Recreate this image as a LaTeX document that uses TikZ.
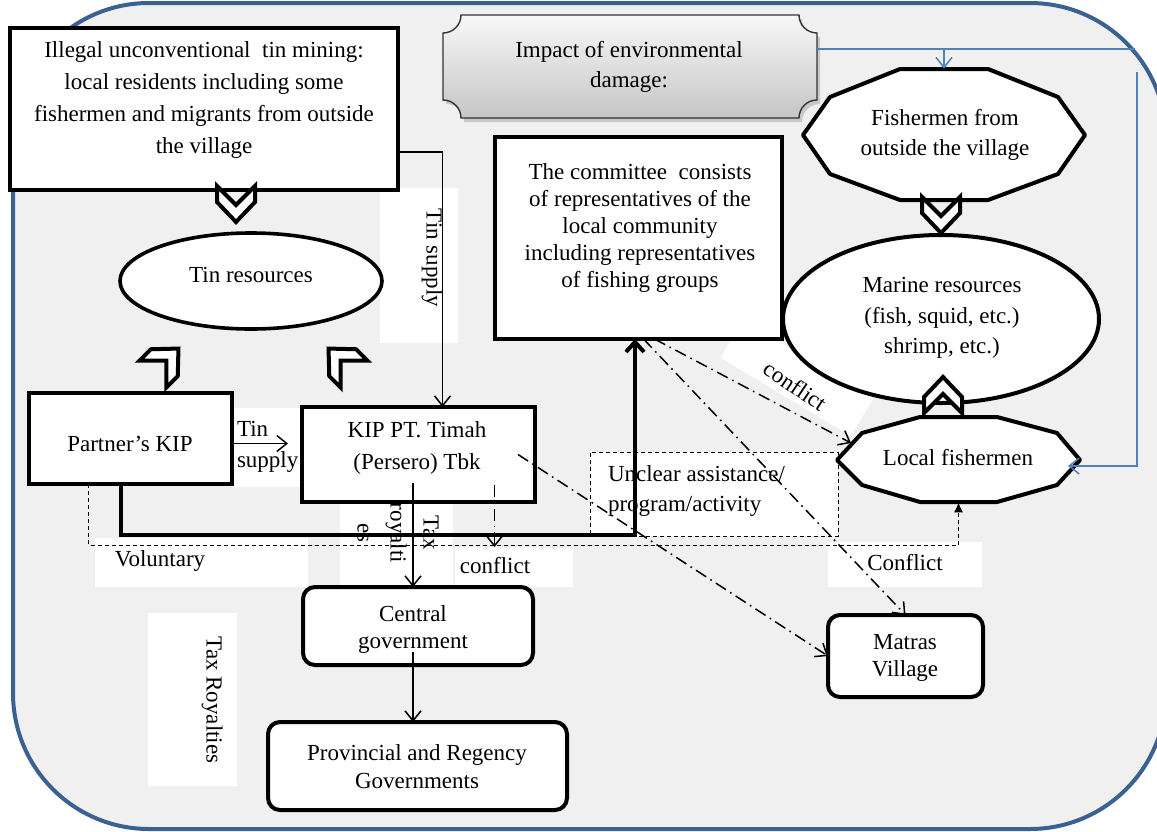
\documentclass[tikz,border=0pt]{standalone}
\usepackage{fontspec}
\setmainfont{Liberation Serif}
\usetikzlibrary{arrows.meta,fit,shapes.geometric,shadows}

\begin{document}
\begin{tikzpicture}[x=0.5pt,y=-0.5pt,
  txt/.style={text=black,inner sep=0pt,outer sep=0pt,align=center,font=\fontsize{11.5}{15.5}\selectfont},
  txtskip/.style={font=\fontsize{11.5}{#1}\selectfont},
  patch/.style={fill=white},
  boxframe/.style={draw=black,line width=2pt,fill=white,inner sep=0pt,outer sep=0pt},
  roundframe/.style={boxframe,rounded corners=6pt},
  ovalframe/.style={boxframe,ellipse,line width=1.8pt},
  octframe/.style={draw=black,line width=2pt,fill=white,line join=round},
  thinline/.style={draw=black,line width=0.75pt},
  dashdot/.style={draw=black,line width=0.75pt,dash pattern=on 6pt off 2.5pt on 0.8pt off 2.5pt},
  finedash/.style={draw=black,line width=0.5pt,dash pattern=on 2pt off 1.5pt},
  blueline/.style={draw=lineBlue,line width=0.75pt},
  barb/.style={-{Straight Barb[length=5pt,width=8pt]}},
  chevron/.pic={\path[draw=black,fill=white,line width=2pt,line join=miter] (-19,0) -- (-19,16) -- (0,36) -- (19,16) -- (19,0) -- (0,19) -- cycle;}
]
\definecolor{bgGray}{RGB}{240,240,240}
\definecolor{borderBlue}{RGB}{59,96,146}
\definecolor{lineBlue}{RGB}{79,129,189}

\path[use as bounding box] (0,0) rectangle (1157,831);
\path[draw=borderBlue,line width=2pt,fill=bgGray,rounded corners=68pt] (13,3) rectangle (1166,829);

\path[patch] (380,188) rectangle (458,343);
\path[patch] (232,408) rectangle (300,487);
\path[patch] (95,538) rectangle (308,587);
\path[patch] (340,502) rectangle (453,587);
\path[patch] (455,548) rectangle (573,587);
\path[patch] (148,613) rectangle (237,786);
\path[patch] (828,542) rectangle (982,587);
\node[patch,rotate=-31,minimum width=76pt,minimum height=22pt,inner sep=0pt] (conf-patch) at (797,378) {};

\node[boxframe,fit={(10,28) (398,190)}] (illegal) {};
\path[draw=black!80,line width=0.7pt,top color=gray!6,bottom color=gray!45,
  drop shadow={opacity=0.35,shadow xshift=1.5pt,shadow yshift=-2pt}]
  (461,15) -- (799,15) .. controls (799,25) and (807,33) .. (817,33) -- (817,100)
  .. controls (807,100) and (799,108) .. (799,118) -- (461,118)
  .. controls (461,108) and (453,100) .. (443,100) -- (443,33)
  .. controls (453,33) and (461,25) .. (461,15) -- cycle;
\node[fit={(443,15) (817,118)},inner sep=0pt] (impact) {};
\node[boxframe,fit={(495,137) (782,339)}] (committee) {};
\node[boxframe,fit={(29,393) (232,484)}] (partner) {};
\node[boxframe,fit={(302,407) (535,502)}] (kiptimah) {};
\node[finedash,fill=white,inner sep=0pt,fit={(590,452) (838,536)}] (unclear) {};
\node[roundframe,fit={(303,587) (533,665)}] (centralgov) {};
\node[roundframe,fit={(268,722) (567,810)}] (provincial) {};
\node[roundframe,fit={(828,615) (983,697)}] (matras) {};
\node[ovalframe,minimum width=131pt,minimum height=48pt] (tinres) at (251,281) {};
\node[ovalframe,line width=2pt,minimum width=158pt,minimum height=84pt] (marine) at (941,319) {};

\path[octframe] (900,69) -- (988,69) -- (1058,97) -- (1085,135) -- (1058,174) -- (988,200)
  -- (900,200) -- (830,174) -- (803,135) -- (830,97) -- cycle;
\node[fit={(803,69) (1085,200)},inner sep=0pt] (fishout) {};
\path[octframe] (920,417) -- (997,417) -- (1057,433) -- (1080,460) -- (1057,485) -- (997,502)
  -- (920,502) -- (862,485) -- (837,460) -- (862,433) -- cycle;
\node[fit={(837,417) (1080,502)},inner sep=0pt] (localfish) {};
\coordinate (lf-nw) at (851,443);
\coordinate (lf-e) at (1068,466);

\pic (chev-ill) at (236,186) {chevron};
\pic[rotate=135] (chev-pk) at (153,374) {chevron};
\pic[rotate=-135] (chev-kt) at (354,374) {chevron};
\pic (chev-fo) at (941,197) {chevron};
\pic[rotate=180] (chev-lf) at (943,413) {chevron};

\draw[thinline,barb] ([yshift=19pt]illegal.south east) -| ([xshift=12pt]kiptimah.north);
\coordinate (tinsup) at ([yshift=-2.5pt]partner.east);
\draw[thinline,barb,shorten >=7pt] (tinsup) -- (tinsup -| kiptimah.west);
\draw[draw=black,line width=2pt,-{Straight Barb[length=5pt,width=9pt]}]
  ([xshift=-4.75pt]partner.south) -- ++(0,51) -| ([xshift=-1.75pt]committee.south);
\draw[finedash,-{Latex[length=5pt,width=4.5pt]}] ([xshift=-21pt]partner.south) -- ++(0,61) -| (localfish.south);
\draw[dashdot,barb] ([xshift=38pt,yshift=8.5pt]kiptimah.south) -- ++(0,62) coordinate (conf-a);
\draw[dashdot,barb] ([xshift=-8.5pt]kiptimah.east) -- (matras.west);
\draw[dashdot,barb] ([xshift=8pt]committee.south) -- (lf-nw);
\draw[dashdot,barb] ([xshift=2.5pt]committee.south) -- (matras.north);
\draw[thinline,barb] ([xshift=-2.75pt,yshift=9.5pt]kiptimah.south) -- ([xshift=-2.5pt]centralgov.north);
\draw[thinline,barb] ([xshift=-2.5pt,yshift=6.5pt]centralgov.south) -- ([xshift=-2.25pt]provincial.north);

\coordinate (bl-end) at (1135,49);
\coordinate (bl-top) at (1137,72);
\draw[blueline] ([yshift=8.75pt]impact.east) -- (bl-end);
\draw[blueline,barb] (bl-end -| fishout.north) -- (fishout.north);
\draw[blueline,barb] (bl-top) |- (lf-e);

\node[txt,txtskip=16pt] (illegal-t) at (204,100) {Illegal unconventional\ \ tin mining:\\local residents including some\\fishermen and migrants from outside\\the village};
\node[txt,txtskip=15pt] (impact-t) at (629,67) {Impact of environmental\\damage:};
\node[txt,txtskip=15pt] (fishout-t) at (945,135) {Fishermen from\\outside the village};
\node[txt,txtskip=13.6pt] (committee-t) at (640,228) {The committee\ \ consists\\of representatives of the\\local community\\including representatives\\of fishing groups};
\node[txt] (tinres-t) at (251,275) {Tin resources};
\node[txt,txtskip=15.3pt] (marine-t) at (942,318) {Marine resources\\(fish, squid, etc.)\\shrimp, etc.)};
\node[txt] (partner-t) at (130,444) {Partner’s KIP};
\node[txt,txtskip=16pt] (kiptimah-t) at (417,448) {KIP PT. Timah\\(Persero) Tbk};
\node[txt] (localfish-t) at (958,458) {Local fishermen};
\node[txt,txtskip=15pt,anchor=west,align=left] (unclear-t) at (608,491) {Unclear assistance/\\program/activity};
\node[txt,txtskip=13.5pt] (centralgov-t) at (413,629) {Central\\government};
\node[txt,txtskip=14pt] (provincial-t) at (417,767) {Provincial and Regency\\Governments};
\node[txt,txtskip=13.5pt] (matras-t) at (905,658) {Matras\\Village};
\node[txt,rotate=-90] (tinsup-v) at (432,258) {Tin supply};
\node[txt,txtskip=15.5pt,anchor=west,align=left] (tinsup-h) at (237,447) {Tin\\supply};
\node[txt,txtskip=16.5pt,rotate=-90] (taxroy-s) at (398,533) {Tax\\royalti\\es};
\node[txt] (voluntary-t) at (160,561) {Voluntary};
\node[txt] (conflict-t) at (495,566) {conflict};
\node[txt] (conflict-r) at (905,563) {Conflict};
\node[txt,rotate=-90] (taxroy-l) at (212,700) {Tax Royalties};
\node[txt,rotate=-34] (conf-b) at (795,386) {conflict};
\end{tikzpicture}
\end{document}
